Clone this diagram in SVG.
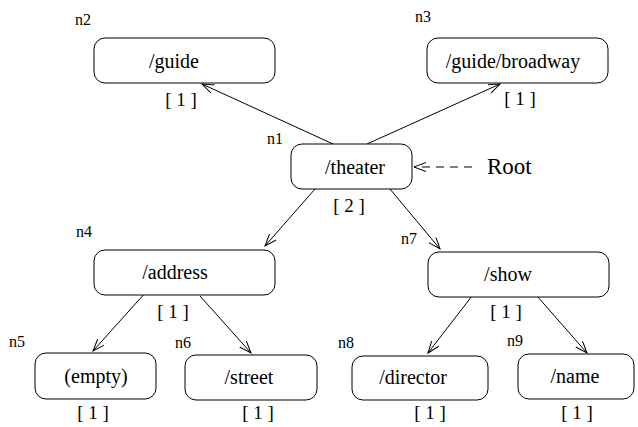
<svg xmlns="http://www.w3.org/2000/svg" width="638" height="427" viewBox="0 0 638 427">
<style>
.box{fill:#fff;stroke:#000;stroke-width:1}
.lbl,.cnt,.id,.root{font-family:"Liberation Serif","Times New Roman",Times,"DejaVu Serif",serif;fill:#000}
.lbl{font-size:20px;text-anchor:middle}
.cnt{font-size:19px;text-anchor:middle}
.id{font-size:16px}
.root{font-size:23px}
.edge{stroke:#000;stroke-width:1;fill:none;marker-end:url(#arr)}
</style>
<defs>
<marker id="arr" markerUnits="userSpaceOnUse" markerWidth="14" markerHeight="10" refX="12" refY="4.5" orient="auto">
<path d="M0,0 L12,4.5 L0,9" fill="none" stroke="#000" stroke-width="1"/>
</marker>
</defs>
<rect width="638" height="427" fill="#fff"/>
<g id="connectors">
<line class="edge" x1="333" y1="144" x2="202" y2="84"/>
<line class="edge" x1="367" y1="144" x2="500" y2="84"/>
<line class="edge" x1="315" y1="189" x2="265" y2="246"/>
<line class="edge" x1="390" y1="189" x2="440" y2="249"/>
<line class="edge" x1="146" y1="292" x2="93" y2="351"/>
<line class="edge" x1="200" y1="296" x2="251" y2="353"/>
<line class="edge" x1="472" y1="296" x2="428" y2="353"/>
<line class="edge" x1="537" y1="296" x2="587" y2="353"/>
<line class="edge" x1="472" y1="167" x2="414" y2="167" stroke-dasharray="8,6"/>
</g>
<g id="root-label"><text class="root" x="487" y="174">Root</text></g>
<g id="n1">
<rect class="box" x="291" y="144" width="121" height="45" rx="11"/>
<text class="lbl" x="355" y="174">/theater</text>
<text class="cnt" x="349" y="212">[ 2 ]</text>
<text class="id" x="267" y="144">n1</text>
</g>
<g id="n2">
<rect class="box" x="94" y="38" width="181" height="45" rx="11"/>
<text class="lbl" x="174" y="68">/guide</text>
<text class="cnt" x="181" y="106">[ 1 ]</text>
<text class="id" x="75" y="25">n2</text>
</g>
<g id="n3">
<rect class="box" x="427" y="38" width="181" height="45" rx="11"/>
<text class="lbl" x="513" y="68">/guide/broadway</text>
<text class="cnt" x="520" y="105">[ 1 ]</text>
<text class="id" x="415" y="22">n3</text>
</g>
<g id="n4">
<rect class="box" x="94" y="250" width="181" height="45" rx="11"/>
<text class="lbl" x="175" y="279">/address</text>
<text class="cnt" x="173" y="318">[ 1 ]</text>
<text class="id" x="76" y="237">n4</text>
</g>
<g id="n7">
<rect class="box" x="428" y="252" width="181" height="45" rx="11"/>
<text class="lbl" x="508" y="281">/show</text>
<text class="cnt" x="506" y="318">[ 1 ]</text>
<text class="id" x="401" y="244">n7</text>
</g>
<g id="n5">
<rect class="box" x="35" y="353" width="121" height="46" rx="11"/>
<text class="lbl" x="96" y="383">(empty)</text>
<text class="cnt" x="93" y="419">[ 1 ]</text>
<text class="id" x="9" y="347">n5</text>
</g>
<g id="n6">
<rect class="box" x="185" y="355" width="132" height="45" rx="11"/>
<text class="lbl" x="249" y="384">/street</text>
<text class="cnt" x="258" y="419">[ 1 ]</text>
<text class="id" x="175" y="348">n6</text>
</g>
<g id="n8">
<rect class="box" x="352" y="356" width="136" height="44" rx="11"/>
<text class="lbl" x="413" y="384">/director</text>
<text class="cnt" x="430" y="419">[ 1 ]</text>
<text class="id" x="338" y="348">n8</text>
</g>
<g id="n9">
<rect class="box" x="518" y="354" width="116" height="45" rx="11"/>
<text class="lbl" x="575" y="383">/name</text>
<text class="cnt" x="577" y="419">[ 1 ]</text>
<text class="id" x="507" y="346">n9</text>
</g>
</svg>
